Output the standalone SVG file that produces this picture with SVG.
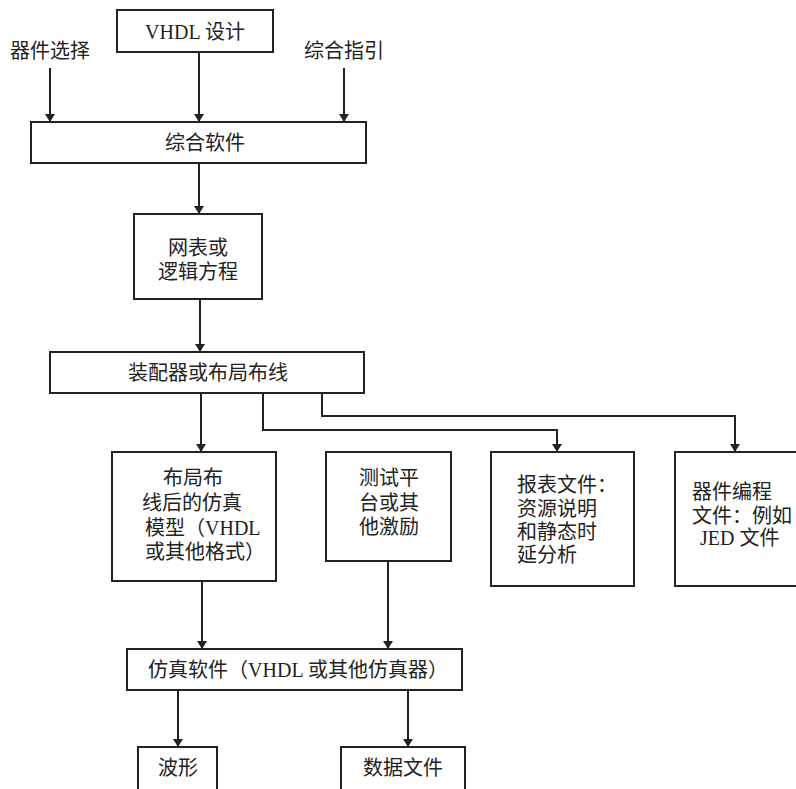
<svg xmlns="http://www.w3.org/2000/svg" width="796" height="789" viewBox="0 0 796 789">
<style>
.b{fill:#fff;stroke:#222;stroke-width:2}
.c{fill:none;stroke:#222;stroke-width:2}
text{font-family:"Liberation Serif","Noto Sans CJK SC",serif;font-size:20px;fill:#222;dominant-baseline:central}
.m{text-anchor:middle}
</style>
<defs>
<marker id="ah" viewBox="0 0 8 14" refX="8" refY="7" markerWidth="8" markerHeight="14" markerUnits="userSpaceOnUse" orient="auto">
<path d="M0,2 L8,7 L0,12 Z" fill="#222"/>
</marker>
</defs>
<rect width="796" height="789" fill="#fff"/>
<g id="connectors">
<line class="c" x1="50" y1="68" x2="50" y2="122" marker-end="url(#ah)"/>
<line class="c" x1="199" y1="52" x2="199" y2="122" marker-end="url(#ah)"/>
<line class="c" x1="344" y1="68" x2="344" y2="122" marker-end="url(#ah)"/>
<line class="c" x1="199" y1="163" x2="199" y2="214" marker-end="url(#ah)"/>
<line class="c" x1="200" y1="299" x2="200" y2="352" marker-end="url(#ah)"/>
<line class="c" x1="201" y1="393" x2="201" y2="452" marker-end="url(#ah)"/>
<polyline class="c" points="263,393 263,430 557,430 557,452" marker-end="url(#ah)"/>
<polyline class="c" points="322,393 322,416 735,416 735,452" marker-end="url(#ah)"/>
<line class="c" x1="202" y1="581" x2="202" y2="649" marker-end="url(#ah)"/>
<line class="c" x1="388" y1="561" x2="388" y2="649" marker-end="url(#ah)"/>
<line class="c" x1="178" y1="690" x2="178" y2="747" marker-end="url(#ah)"/>
<line class="c" x1="408" y1="690" x2="408" y2="747" marker-end="url(#ah)"/>
</g>
<g id="vhdl"><rect class="b" x="117" y="10" width="156" height="42"/><text class="m" x="195" y="32">VHDL 设计</text></g>
<g id="device-select"><text class="m" x="50" y="51">器件选择</text></g>
<g id="synth-guide"><text class="m" x="344" y="51">综合指引</text></g>
<g id="synth"><rect class="b" x="31" y="122" width="335" height="41"/><text class="m" x="205" y="143">综合软件</text></g>
<g id="netlist"><rect class="b" x="134" y="214" width="128" height="85"/><text class="m" x="198" y="248">网表或</text><text class="m" x="198" y="272">逻辑方程</text></g>
<g id="fitter"><rect class="b" x="50" y="352" width="314" height="41"/><text class="m" x="208" y="373">装配器或布局布线</text></g>
<g id="postlayout"><rect class="b" x="112" y="452" width="164" height="129"/>
<text class="m" x="193" y="478">布局布</text><text class="m" x="192" y="503">线后的仿真</text><text x="145" y="528">模型（VHDL</text><text x="145" y="552">或其他格式）</text></g>
<g id="testbench"><rect class="b" x="326" y="452" width="125" height="109"/>
<text x="359" y="478">测试平</text><text x="359" y="503">台或其</text><text x="359" y="527">他激励</text></g>
<g id="report"><rect class="b" x="491" y="452" width="143" height="134"/>
<text x="517" y="485">报表文件：</text><text x="517" y="509">资源说明</text><text x="517" y="532">和静态时</text><text x="517" y="555">延分析</text></g>
<g id="progfile"><rect class="b" x="675" y="452" width="125" height="134"/>
<text x="692" y="492">器件编程</text><text x="692" y="516">文件：例如</text><text x="700" y="538">JED 文件</text></g>
<g id="simulator"><rect class="b" x="127" y="649" width="335" height="41"/><text class="m" x="298" y="670">仿真软件（VHDL 或其他仿真器）</text></g>
<g id="waveform"><rect class="b" x="138" y="747" width="79" height="50"/><text class="m" x="178" y="768">波形</text></g>
<g id="datafile"><rect class="b" x="341" y="747" width="124" height="50"/><text class="m" x="403" y="768">数据文件</text></g>
</svg>
